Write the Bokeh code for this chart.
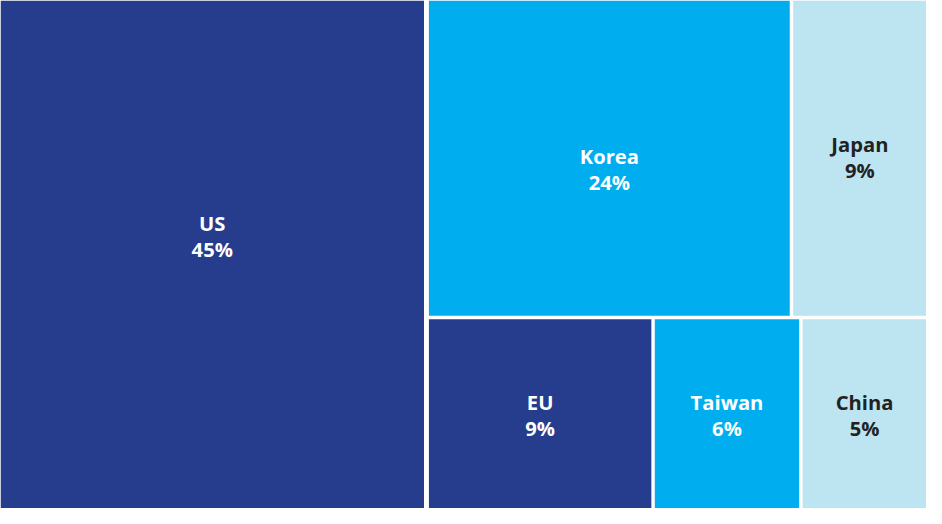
from bokeh.plotting import figure
from bokeh.models import ColumnDataSource, Range1d
from bokeh.core.properties import value
from bokeh.embed import file_html
from bokeh.resources import INLINE

# ---- data ----
regions = ["US", "Korea", "Japan", "EU", "Taiwan", "China"]
shares = [46.0, 24.6, 9.1, 9.2, 6.0, 5.1]          # tile areas (estimated)
pct_labels = ["45%", "24%", "9%", "9%", "6%", "5%"]
colors = ["#253D8C", "#00AEEF", "#BCE4F1", "#253D8C", "#00AEEF", "#BCE4F1"]
text_colors = ["#FFFFFF", "#FFFFFF", "#222222", "#FFFFFF", "#FFFFFF", "#222222"]

# ---- layout (pixel-like units, y downward) ----
W, H = 942.0, 524.0
GAP = 3.5
US_GAP = 5.0
label_dy = [-27, 4, -9, -6, -6, -6]

total = sum(shares)
us, korea, japan, eu, taiwan, china = shares
x_split = W * us / total
rest = total - us
y_split = H * (korea + japan) / rest
rects = []
rects.append((0.0, x_split, 0.0, H))
rw = W - x_split
top_sum = korea + japan
xk = x_split + rw * korea / top_sum
rects.append((x_split, xk, 0.0, y_split))
rects.append((xk, W, 0.0, y_split))
bot_sum = eu + taiwan + china
xe = x_split + rw * eu / bot_sum
xt = xe + rw * taiwan / bot_sum
rects.append((x_split, xe, y_split, H))
rects.append((xe, xt, y_split, H))
rects.append((xt, W, y_split, H))

def inset(r):
    l, rr, t, b = r
    if l > 0:
        l += (US_GAP if abs(l - x_split) < 1e-6 else GAP) / 2
    if rr < W:
        rr -= (US_GAP if abs(rr - x_split) < 1e-6 else GAP) / 2
    if t > 0: t += GAP / 2
    if b < H: b -= GAP / 2
    return l, rr, t, b

rects = [inset(r) for r in rects]
lefts = [r[0] for r in rects]
rights = [r[1] for r in rects]
tops = [r[2] for r in rects]
bottoms = [r[3] for r in rects]
cx = [(r[0] + r[1]) / 2 for r in rects]
cy = [(r[2] + r[3]) / 2 + d for r, d in zip(rects, label_dy)]
name_y = [c - 6 for c in cy]
pct_y = [c + 21 for c in cy]

src = ColumnDataSource(dict(left=lefts, right=rights, top=tops, bottom=bottoms,
                            color=colors, tcolor=text_colors, cx=cx,
                            name_y=name_y, pct_y=pct_y, name=regions, pct=pct_labels))

PW, PH = 926, 508
p = figure(width=PW, height=PH, output_backend="svg", toolbar_location=None,
           x_range=Range1d(0, W), y_range=Range1d(H, 0), min_border=0,
           background_fill_color="white", border_fill_color="white")
p.axis.visible = False
p.grid.visible = False
p.outline_line_color = None

p.quad(left="left", right="right", top="top", bottom="bottom", fill_color="color",
       line_color=None, source=src)

fs = "%.1fpx" % (20.8 * PH / H)
for col in ("name", "pct"):
    p.text(x="cx", y=col + "_y", text=col, source=src, text_color="tcolor",
           text_font=value("Open Sans"), text_font_style="bold", text_font_size=fs,
           text_align="center", text_baseline="alphabetic")

open("out.html", "w").write(file_html(p, INLINE))
